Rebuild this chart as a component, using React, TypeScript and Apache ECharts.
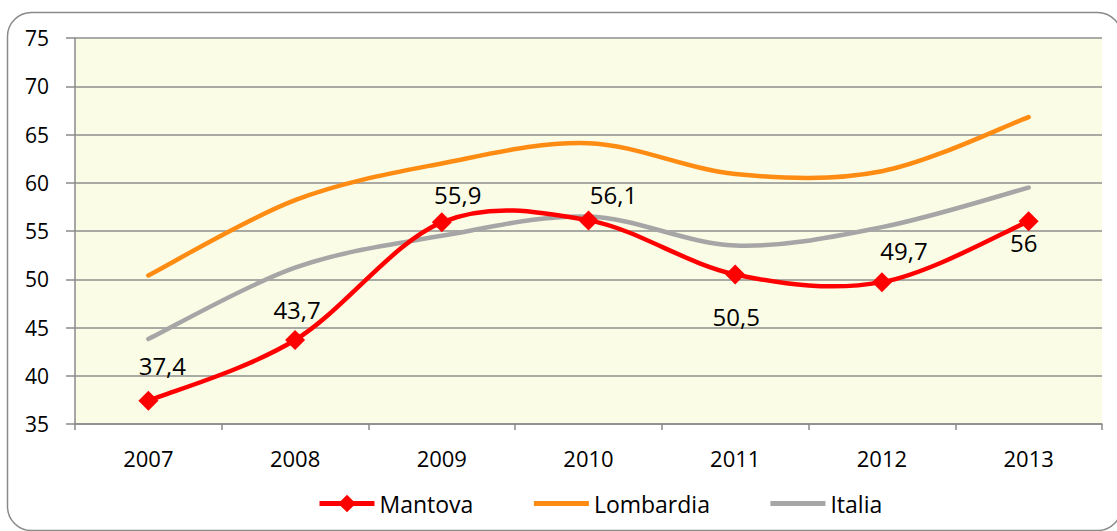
import React, { useEffect, useRef } from "react";
import * as echarts from "echarts";

const years = ["2007", "2008", "2009", "2010", "2011", "2012", "2013"];
const mantova = [37.4, 43.7, 55.9, 56.1, 50.5, 49.7, 56];
const lombardia = [50.4, 58.2, 62.0, 64.1, 60.9, 61.2, 66.8];
const italia = [43.8, 51.2, 54.5, 56.5, 53.5, 55.4, 59.5];
const mantovaLabelOffsets = [
  [14, -35],
  [2, -31],
  [16, -28],
  [25, -26],
  [1, 42],
  [22, -32],
  [-5, 21],
];

const FONT = "'Open Sans', 'Noto Sans', sans-serif";
const RED = "#FF0000";
const ORANGE = "#FF8C12";
const GRAY = "#A6A6A6";

function makeCurve(name: string, values: number[], color: string, width: number) {
  return {
    type: "custom",
    name: name + "-curve",
    data: [[0, values[0]]],
    silent: true,
    z: 2,
    renderItem: (_params: any, api: any) => {
      const pts = values.map((v, i) => api.coord([i, v]));
      let d = `M${pts[0][0]},${pts[0][1]}`;
      const n = pts.length;
      for (let i = 0; i < n - 1; i++) {
        const p0 = pts[Math.max(i - 1, 0)];
        const p1 = pts[i];
        const p2 = pts[i + 1];
        const p3 = pts[Math.min(i + 2, n - 1)];
        const c1x = p1[0] + (p2[0] - p0[0]) / 6;
        const c1y = p1[1] + (p2[1] - p0[1]) / 6;
        const c2x = p2[0] - (p3[0] - p1[0]) / 6;
        const c2y = p2[1] - (p3[1] - p1[1]) / 6;
        d += ` C${c1x},${c1y} ${c2x},${c2y} ${p2[0]},${p2[1]}`;
      }
      return {
        type: "path",
        shape: { pathData: d },
        style: { fill: "none", stroke: color, lineWidth: width, lineCap: "round", lineJoin: "round" },
      };
    },
  };
}

export default function App() {
  const ref = useRef<HTMLDivElement>(null);
  useEffect(() => {
    if (!ref.current) return;
    const chart = echarts.init(ref.current, null, { renderer: "svg" });
    const mantovaData = mantova.map((v, i) => ({
      value: v,
      label: { position: "inside", offset: mantovaLabelOffsets[i] },
    }));
    chart.setOption({
      animation: false,
      backgroundColor: "#ffffff",
      textStyle: { fontFamily: FONT },
      graphic: [
        {
          type: "rect",
          shape: { x: 7.5, y: 12.5, width: 1114, height: 518, r: 24 },
          style: { fill: "none", stroke: "#8a8a8a", lineWidth: 1.5 },
          z: 10,
        },
      ],
      grid: {
        left: 75,
        right: 15,
        top: 38,
        bottom: 107,
        show: true,
        backgroundColor: "#FBFCE6",
        borderWidth: 0,
      },
      legend: {
        top: 492,
        left: 317,
        padding: 0,
        itemWidth: 55,
        itemHeight: 22,
        itemGap: 58,
        textStyle: { fontFamily: FONT, fontSize: 23, color: "#000" },
        data: [
          { name: "Mantova", lineStyle: { color: RED, width: 5, opacity: 1 } },
          { name: "Lombardia", lineStyle: { color: ORANGE, width: 5, opacity: 1 }, itemStyle: { opacity: 0 } },
          { name: "Italia", lineStyle: { color: GRAY, width: 5, opacity: 1 }, itemStyle: { opacity: 0 } },
        ],
      },
      xAxis: {
        type: "category",
        data: years,
        boundaryGap: true,
        axisLine: { lineStyle: { color: "#8a8a8a", width: 1.5 } },
        axisTick: { show: true, length: 6, lineStyle: { color: "#8a8a8a", width: 1.5 } },
        axisLabel: { fontFamily: FONT, fontSize: 22, color: "#000", margin: 23 },
        splitLine: { show: false },
      },
      yAxis: {
        type: "value",
        min: 35,
        max: 75,
        interval: 5,
        axisLine: { show: true, lineStyle: { color: "#8a8a8a", width: 1.5 } },
        axisTick: { show: true, length: 9, lineStyle: { color: "#8a8a8a", width: 1.5 } },
        axisLabel: { fontFamily: FONT, fontSize: 21, color: "#000", margin: 26 },
        splitLine: { show: true, lineStyle: { color: "#8f8f8f", width: 1.5 } },
      },
      series: [
        makeCurve("Lombardia", lombardia, ORANGE, 4.5),
        makeCurve("Italia", italia, GRAY, 4.5),
        makeCurve("Mantova", mantova, RED, 4.5),
        {
          name: "Lombardia",
          type: "line",
          data: lombardia,
          symbol: "none",
          color: ORANGE,
          lineStyle: { width: 4.5, color: ORANGE, opacity: 0 },
          z: 2,
        },
        {
          name: "Italia",
          type: "line",
          data: italia,
          symbol: "none",
          color: GRAY,
          lineStyle: { width: 4.5, color: GRAY, opacity: 0 },
          z: 2,
        },
        {
          name: "Mantova",
          type: "line",
          data: mantovaData,
          symbol: "diamond",
          symbolSize: 20,
          color: RED,
          itemStyle: { color: RED },
          lineStyle: { width: 4.5, color: RED, opacity: 0 },
          label: {
            show: true,
            fontFamily: FONT,
            fontSize: 24,
            color: "#000",
            formatter: (p: any) => String(p.value).replace(".", ","),
          },
          z: 3,
        },
      ],
    });
    return () => chart.dispose();
  }, []);
  return (
    <div
      ref={ref}
      style={{ position: "fixed", left: 0, top: 0, width: 1117, height: 531 }}
    />
  );
}
